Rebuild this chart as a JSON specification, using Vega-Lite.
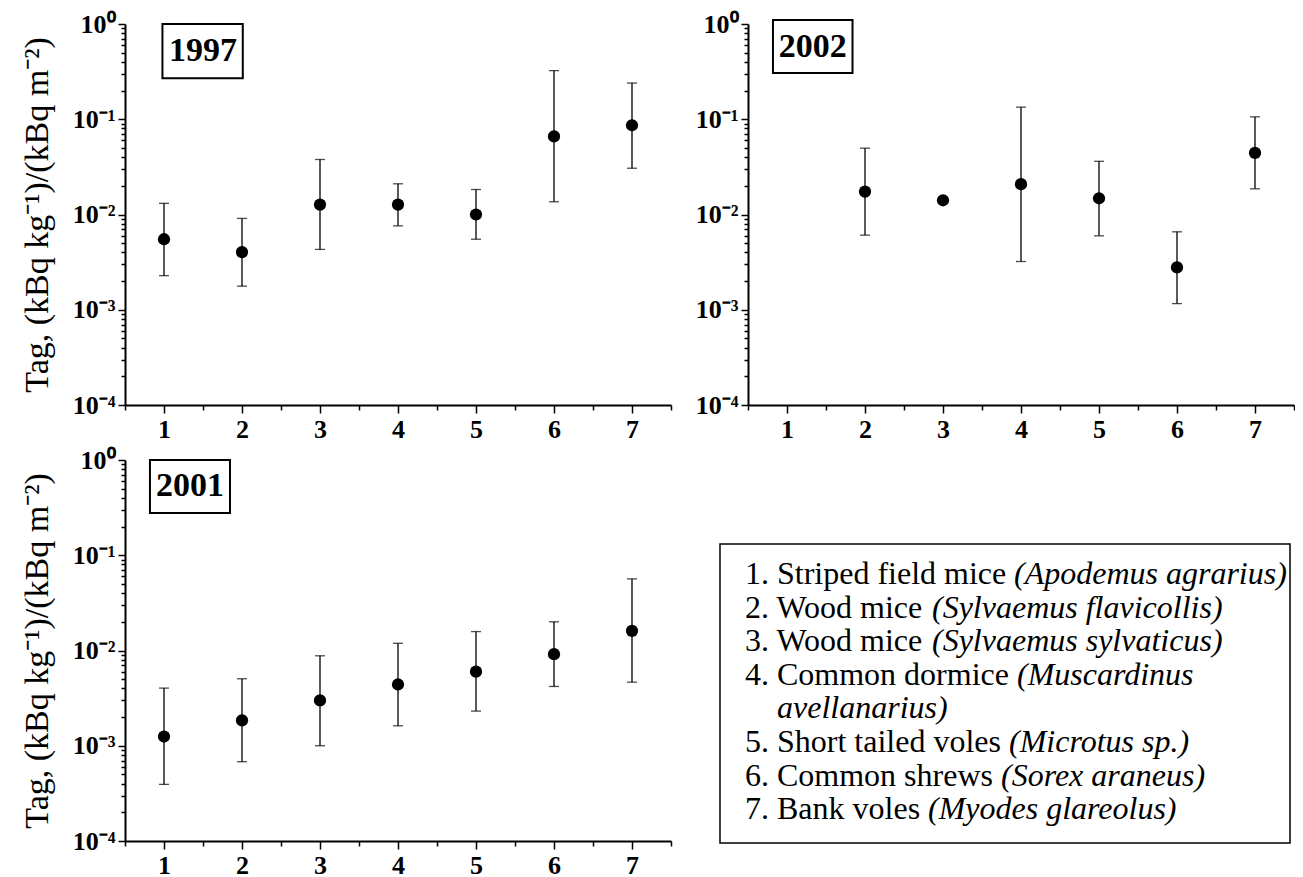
{
  "$schema": "https://vega.github.io/schema/vega-lite/v6.json",
  "autosize": {"type": "pad"},
  "padding": {"left": 20, "top": 11, "right": 0, "bottom": 0},
  "background": "white",
  "bounds": "flush",
  "columns": 2,
  "spacing": {"row": 55, "column": 77},
  "config": {
    "view": {"stroke": null},
    "font": "Liberation Serif",
    "axis": {
      "domainColor": "black", "domainWidth": 2, "tickColor": "black", "tickWidth": 1.5,
      "labelFont": "Liberation Serif", "labelFontWeight": "bold", "labelFontSize": 26, "labelColor": "black",
      "grid": false, "titleFont": "Liberation Serif", "titleFontWeight": "normal", "titleFontSize": 34, "titleColor": "black"
    }
  },
  "datasets": {
    "points": [
      {"year": "1997", "species": 1, "value": 0.0055, "lo": 0.00228, "hi": 0.0131},
      {"year": "1997", "species": 2, "value": 0.00403, "lo": 0.00177, "hi": 0.0091},
      {"year": "1997", "species": 3, "value": 0.0127, "lo": 0.0043, "hi": 0.0378},
      {"year": "1997", "species": 4, "value": 0.0127, "lo": 0.0076, "hi": 0.021},
      {"year": "1997", "species": 5, "value": 0.0100, "lo": 0.0055, "hi": 0.0183},
      {"year": "1997", "species": 6, "value": 0.066, "lo": 0.0136, "hi": 0.324},
      {"year": "1997", "species": 7, "value": 0.0865, "lo": 0.0306, "hi": 0.24},
      {"year": "2002", "species": 2, "value": 0.0174, "lo": 0.00607, "hi": 0.0497},
      {"year": "2002", "species": 3, "value": 0.0141, "lo": null, "hi": null},
      {"year": "2002", "species": 4, "value": 0.0208, "lo": 0.00321, "hi": 0.134},
      {"year": "2002", "species": 5, "value": 0.0148, "lo": 0.00597, "hi": 0.0362},
      {"year": "2002", "species": 6, "value": 0.00278, "lo": 0.00116, "hi": 0.00658},
      {"year": "2002", "species": 7, "value": 0.0443, "lo": 0.0186, "hi": 0.106},
      {"year": "2001", "species": 1, "value": 0.00125, "lo": 0.000393, "hi": 0.00403},
      {"year": "2001", "species": 2, "value": 0.00185, "lo": 0.00068, "hi": 0.00505},
      {"year": "2001", "species": 3, "value": 0.00299, "lo": 0.0010, "hi": 0.0088},
      {"year": "2001", "species": 4, "value": 0.0044, "lo": 0.00162, "hi": 0.0119},
      {"year": "2001", "species": 5, "value": 0.0060, "lo": 0.00231, "hi": 0.0158},
      {"year": "2001", "species": 6, "value": 0.00916, "lo": 0.00419, "hi": 0.0200},
      {"year": "2001", "species": 7, "value": 0.0161, "lo": 0.00465, "hi": 0.0565}
    ],
    "years": [{"year": "1997"}, {"year": "2002"}, {"year": "2001"}, {"year": "legend"}],
    "legend": [
      {"line": 1, "name": "1. Striped field mice", "latin": "(Apodemus agrarius)"},
      {"line": 2, "name": "2. Wood mice", "latin": "(Sylvaemus flavicollis)"},
      {"line": 3, "name": "3. Wood mice", "latin": "(Sylvaemus sylvaticus)"},
      {"line": 4, "name": "4. Common dormice", "latin": "(Muscardinus"},
      {"line": 5, "name": "", "latin": "avellanarius)"},
      {"line": 6, "name": "5. Short tailed voles", "latin": "(Microtus sp.)"},
      {"line": 7, "name": "6. Common shrews", "latin": "(Sorex araneus)"},
      {"line": 8, "name": "7. Bank voles", "latin": "(Myodes glareolus)"}
    ]
  },
  "concat": [
    {
      "width": 546, "height": 381,
      "resolve": {"scale": {"x": "independent"}, "axis": {"x": "independent"}},
      "layer": [
        {
          "data": {"name": "points"},
          "transform": [{"filter": "datum.year == '1997'"}],
          "encoding": {
            "x": {"field": "species", "type": "quantitative", "title": null,
              "scale": {"domain": [0.5, 7.5], "nice": false, "zero": false},
              "axis": {"values": [0.5,1,1.5,2,2.5,3,3.5,4,4.5,5,5.5,6,6.5,7,7.5], "labelExpr": "datum.value % 1 == 0 ? format(datum.value, 'd') : ''", "tickSize": {"condition": {"test": "datum.value % 1 == 0", "value": 8}, "value": 5}, "labelPadding": 3, "labelOverlap": false, "labelFlush": false}}
          },
          "layer": [
            {"transform": [{"filter": "isValid(datum.lo)"}], "mark": {"type": "rule", "color": "black", "strokeWidth": 1.3},
             "encoding": {"y": {"field": "lo", "type": "quantitative", "title": "Tag, (kBq kg⁻¹)/(kBq m⁻²)", "scale": {"type": "log", "domain": [0.0001, 1], "nice": false}}, "y2": {"field": "hi"}}},
            {"transform": [{"filter": "isValid(datum.lo)"}], "mark": {"type": "tick", "orient": "horizontal", "color": "black", "size": 10, "thickness": 1.3},
             "encoding": {"y": {"field": "lo", "type": "quantitative", "title": "Tag, (kBq kg⁻¹)/(kBq m⁻²)"}}},
            {"transform": [{"filter": "isValid(datum.lo)"}], "mark": {"type": "tick", "orient": "horizontal", "color": "black", "size": 10, "thickness": 1.3},
             "encoding": {"y": {"field": "hi", "type": "quantitative", "title": "Tag, (kBq kg⁻¹)/(kBq m⁻²)"}}},
            {"mark": {"type": "circle", "color": "black", "opacity": 1, "size": 150},
             "encoding": {
               "y": {"field": "value", "type": "quantitative", "title": "Tag, (kBq kg⁻¹)/(kBq m⁻²)",
               "axis": {"values": [0.0001,0.0002,0.0003,0.0004,0.0005,0.0006,0.0007,0.0008,0.0009,0.001,0.002,0.003,0.004,0.005,0.006,0.007,0.008,0.009,0.01,0.02,0.03,0.04,0.05,0.06,0.07,0.08,0.09,0.1,0.2,0.3,0.4,0.5,0.6,0.7,0.8,0.9,1],
                 "labelExpr": "datum.value > 0.95 ? '10⁰' : abs(datum.value - 0.1) < 1e-9 ? '10⁻¹' : abs(datum.value - 0.01) < 1e-9 ? '10⁻²' : abs(datum.value - 0.001) < 1e-10 ? '10⁻³' : abs(datum.value - 0.0001) < 1e-11 ? '10⁻⁴' : ''",
                 "tickSize": {"condition": {"test": "abs(log(datum.value)/LN10 - round(log(datum.value)/LN10)) < 0.001", "value": 7}, "value": 4},
                 "labelPadding": 3, "labelOverlap": false, "labelFlush": false, "titlePadding": 18}}}}
          ]
        },
        {
          "data": {"name": "years"},
          "transform": [{"filter": "datum.year == '1997'"}],
          "layer": [
            {"mark": {"type": "rect", "fill": "white", "stroke": "black", "strokeWidth": 2},
             "encoding": {"x": {"datum": 0.98, "type": "quantitative", "scale": {"domain": [0.5, 7.5], "nice": false, "zero": false}, "axis": null}, "x2": {"datum": 2.01}, "y": {"datum": 1.0, "type": "quantitative", "title": "Tag, (kBq kg⁻¹)/(kBq m⁻²)"}, "y2": {"datum": 0.27}}},
            {"mark": {"type": "text", "font": "Liberation Serif", "fontWeight": "bold", "fontSize": 34, "baseline": "middle", "align": "center", "color": "black"},
             "encoding": {"x": {"datum": 1.5, "type": "quantitative", "axis": null}, "y": {"datum": 0.52, "type": "quantitative", "title": "Tag, (kBq kg⁻¹)/(kBq m⁻²)"}, "text": {"field": "year"}}}
          ]
        }
      ]
    },
    {
      "width": 546, "height": 381,
      "resolve": {"scale": {"x": "independent"}, "axis": {"x": "independent"}},
      "layer": [
        {
          "data": {"name": "points"},
          "transform": [{"filter": "datum.year == '2002'"}],
          "encoding": {
            "x": {"field": "species", "type": "quantitative", "title": null,
              "scale": {"domain": [0.5, 7.5], "nice": false, "zero": false},
              "axis": {"values": [0.5,1,1.5,2,2.5,3,3.5,4,4.5,5,5.5,6,6.5,7,7.5], "labelExpr": "datum.value % 1 == 0 ? format(datum.value, 'd') : ''", "tickSize": {"condition": {"test": "datum.value % 1 == 0", "value": 8}, "value": 5}, "labelPadding": 3, "labelOverlap": false, "labelFlush": false}}
          },
          "layer": [
            {"transform": [{"filter": "isValid(datum.lo)"}], "mark": {"type": "rule", "color": "black", "strokeWidth": 1.3},
             "encoding": {"y": {"field": "lo", "type": "quantitative", "title": null, "scale": {"type": "log", "domain": [0.0001, 1], "nice": false}}, "y2": {"field": "hi"}}},
            {"transform": [{"filter": "isValid(datum.lo)"}], "mark": {"type": "tick", "orient": "horizontal", "color": "black", "size": 10, "thickness": 1.3},
             "encoding": {"y": {"field": "lo", "type": "quantitative", "title": null}}},
            {"transform": [{"filter": "isValid(datum.lo)"}], "mark": {"type": "tick", "orient": "horizontal", "color": "black", "size": 10, "thickness": 1.3},
             "encoding": {"y": {"field": "hi", "type": "quantitative", "title": null}}},
            {"mark": {"type": "circle", "color": "black", "opacity": 1, "size": 150},
             "encoding": {
               "y": {"field": "value", "type": "quantitative", "title": null,
               "axis": {"values": [0.0001,0.0002,0.0003,0.0004,0.0005,0.0006,0.0007,0.0008,0.0009,0.001,0.002,0.003,0.004,0.005,0.006,0.007,0.008,0.009,0.01,0.02,0.03,0.04,0.05,0.06,0.07,0.08,0.09,0.1,0.2,0.3,0.4,0.5,0.6,0.7,0.8,0.9,1],
                 "labelExpr": "datum.value > 0.95 ? '10⁰' : abs(datum.value - 0.1) < 1e-9 ? '10⁻¹' : abs(datum.value - 0.01) < 1e-9 ? '10⁻²' : abs(datum.value - 0.001) < 1e-10 ? '10⁻³' : abs(datum.value - 0.0001) < 1e-11 ? '10⁻⁴' : ''",
                 "tickSize": {"condition": {"test": "abs(log(datum.value)/LN10 - round(log(datum.value)/LN10)) < 0.001", "value": 7}, "value": 4},
                 "labelPadding": 3, "labelOverlap": false, "labelFlush": false}}}}
          ]
        },
        {
          "data": {"name": "years"},
          "transform": [{"filter": "datum.year == '2002'"}],
          "layer": [
            {"mark": {"type": "rect", "fill": "white", "stroke": "black", "strokeWidth": 2},
             "encoding": {"x": {"datum": 0.82, "type": "quantitative", "scale": {"domain": [0.5, 7.5], "nice": false, "zero": false}, "axis": null}, "x2": {"datum": 1.84}, "y": {"datum": 1.1, "type": "quantitative", "title": null}, "y2": {"datum": 0.305}}},
            {"mark": {"type": "text", "font": "Liberation Serif", "fontWeight": "bold", "fontSize": 34, "baseline": "middle", "align": "center", "color": "black"},
             "encoding": {"x": {"datum": 1.33, "type": "quantitative", "axis": null}, "y": {"datum": 0.58, "type": "quantitative", "title": null}, "text": {"field": "year"}}}
          ]
        }
      ]
    },
    {
      "width": 546, "height": 381,
      "resolve": {"scale": {"x": "independent"}, "axis": {"x": "independent"}},
      "layer": [
        {
          "data": {"name": "points"},
          "transform": [{"filter": "datum.year == '2001'"}],
          "encoding": {
            "x": {"field": "species", "type": "quantitative", "title": null,
              "scale": {"domain": [0.5, 7.5], "nice": false, "zero": false},
              "axis": {"values": [0.5,1,1.5,2,2.5,3,3.5,4,4.5,5,5.5,6,6.5,7,7.5], "labelExpr": "datum.value % 1 == 0 ? format(datum.value, 'd') : ''", "tickSize": {"condition": {"test": "datum.value % 1 == 0", "value": 8}, "value": 5}, "labelPadding": 3, "labelOverlap": false, "labelFlush": false}}
          },
          "layer": [
            {"transform": [{"filter": "isValid(datum.lo)"}], "mark": {"type": "rule", "color": "black", "strokeWidth": 1.3},
             "encoding": {"y": {"field": "lo", "type": "quantitative", "title": "Tag, (kBq kg⁻¹)/(kBq m⁻²)", "scale": {"type": "log", "domain": [0.0001, 1], "nice": false}}, "y2": {"field": "hi"}}},
            {"transform": [{"filter": "isValid(datum.lo)"}], "mark": {"type": "tick", "orient": "horizontal", "color": "black", "size": 10, "thickness": 1.3},
             "encoding": {"y": {"field": "lo", "type": "quantitative", "title": "Tag, (kBq kg⁻¹)/(kBq m⁻²)"}}},
            {"transform": [{"filter": "isValid(datum.lo)"}], "mark": {"type": "tick", "orient": "horizontal", "color": "black", "size": 10, "thickness": 1.3},
             "encoding": {"y": {"field": "hi", "type": "quantitative", "title": "Tag, (kBq kg⁻¹)/(kBq m⁻²)"}}},
            {"mark": {"type": "circle", "color": "black", "opacity": 1, "size": 150},
             "encoding": {
               "y": {"field": "value", "type": "quantitative", "title": "Tag, (kBq kg⁻¹)/(kBq m⁻²)",
               "axis": {"values": [0.0001,0.0002,0.0003,0.0004,0.0005,0.0006,0.0007,0.0008,0.0009,0.001,0.002,0.003,0.004,0.005,0.006,0.007,0.008,0.009,0.01,0.02,0.03,0.04,0.05,0.06,0.07,0.08,0.09,0.1,0.2,0.3,0.4,0.5,0.6,0.7,0.8,0.9,1],
                 "labelExpr": "datum.value > 0.95 ? '10⁰' : abs(datum.value - 0.1) < 1e-9 ? '10⁻¹' : abs(datum.value - 0.01) < 1e-9 ? '10⁻²' : abs(datum.value - 0.001) < 1e-10 ? '10⁻³' : abs(datum.value - 0.0001) < 1e-11 ? '10⁻⁴' : ''",
                 "tickSize": {"condition": {"test": "abs(log(datum.value)/LN10 - round(log(datum.value)/LN10)) < 0.001", "value": 7}, "value": 4},
                 "labelPadding": 3, "labelOverlap": false, "labelFlush": false, "titlePadding": 18}}}}
          ]
        },
        {
          "data": {"name": "years"},
          "transform": [{"filter": "datum.year == '2001'"}],
          "layer": [
            {"mark": {"type": "rect", "fill": "white", "stroke": "black", "strokeWidth": 2},
             "encoding": {"x": {"datum": 0.82, "type": "quantitative", "scale": {"domain": [0.5, 7.5], "nice": false, "zero": false}, "axis": null}, "x2": {"datum": 1.846}, "y": {"datum": 1.0, "type": "quantitative", "title": "Tag, (kBq kg⁻¹)/(kBq m⁻²)"}, "y2": {"datum": 0.277}}},
            {"mark": {"type": "text", "font": "Liberation Serif", "fontWeight": "bold", "fontSize": 34, "baseline": "middle", "align": "center", "color": "black"},
             "encoding": {"x": {"datum": 1.333, "type": "quantitative", "axis": null}, "y": {"datum": 0.53, "type": "quantitative", "title": "Tag, (kBq kg⁻¹)/(kBq m⁻²)"}, "text": {"field": "year"}}}
          ]
        }
      ]
    },
    {
      "width": 546, "height": 381,
      "layer": [
        {"data": {"name": "years"}, "transform": [{"filter": "datum.year == 'legend'"}], "mark": {"type": "rect", "fill": "white", "stroke": "black", "strokeWidth": 1.5},
         "encoding": {"x": {"datum": -0.0513, "type": "quantitative", "scale": {"domain": [0, 1], "nice": false, "zero": false}, "axis": null}, "x2": {"datum": 0.9927},
           "y": {"datum": 0.107, "type": "quantitative", "scale": {"domain": [-2.393, 8.946], "nice": false, "zero": false, "reverse": true}, "axis": null}, "y2": {"datum": 9.006}}},
        {"data": {"name": "legend"}, "mark": {"type": "text", "align": "left", "baseline": "middle", "font": "Liberation Serif", "fontSize": 32, "color": "black"},
         "encoding": {"x": {"datum": -0.0055, "type": "quantitative"}, "y": {"field": "line", "type": "quantitative"}, "text": {"field": "name"}}},
        {"data": {"name": "legend"}, "transform": [{"filter": "datum.line == 1"}], "mark": {"type": "text", "align": "left", "baseline": "middle", "font": "Liberation Serif", "fontSize": 32, "fontStyle": "italic", "color": "black", "dx": 269},
         "encoding": {"x": {"datum": -0.0055, "type": "quantitative"}, "y": {"field": "line", "type": "quantitative"}, "text": {"field": "latin"}}},
        {"data": {"name": "legend"}, "transform": [{"filter": "datum.line == 2 || datum.line == 3"}], "mark": {"type": "text", "align": "left", "baseline": "middle", "font": "Liberation Serif", "fontSize": 32, "fontStyle": "italic", "color": "black", "dx": 187},
         "encoding": {"x": {"datum": -0.0055, "type": "quantitative"}, "y": {"field": "line", "type": "quantitative"}, "text": {"field": "latin"}}},
        {"data": {"name": "legend"}, "transform": [{"filter": "datum.line == 4"}], "mark": {"type": "text", "align": "left", "baseline": "middle", "font": "Liberation Serif", "fontSize": 32, "fontStyle": "italic", "color": "black", "dx": 272},
         "encoding": {"x": {"datum": -0.0055, "type": "quantitative"}, "y": {"field": "line", "type": "quantitative"}, "text": {"field": "latin"}}},
        {"data": {"name": "legend"}, "transform": [{"filter": "datum.line == 5"}], "mark": {"type": "text", "align": "left", "baseline": "middle", "font": "Liberation Serif", "fontSize": 32, "fontStyle": "italic", "color": "black", "dx": 32},
         "encoding": {"x": {"datum": -0.0055, "type": "quantitative"}, "y": {"field": "line", "type": "quantitative"}, "text": {"field": "latin"}}},
        {"data": {"name": "legend"}, "transform": [{"filter": "datum.line == 6"}], "mark": {"type": "text", "align": "left", "baseline": "middle", "font": "Liberation Serif", "fontSize": 32, "fontStyle": "italic", "color": "black", "dx": 264},
         "encoding": {"x": {"datum": -0.0055, "type": "quantitative"}, "y": {"field": "line", "type": "quantitative"}, "text": {"field": "latin"}}},
        {"data": {"name": "legend"}, "transform": [{"filter": "datum.line == 7"}], "mark": {"type": "text", "align": "left", "baseline": "middle", "font": "Liberation Serif", "fontSize": 32, "fontStyle": "italic", "color": "black", "dx": 256},
         "encoding": {"x": {"datum": -0.0055, "type": "quantitative"}, "y": {"field": "line", "type": "quantitative"}, "text": {"field": "latin"}}},
        {"data": {"name": "legend"}, "transform": [{"filter": "datum.line == 8"}], "mark": {"type": "text", "align": "left", "baseline": "middle", "font": "Liberation Serif", "fontSize": 32, "fontStyle": "italic", "color": "black", "dx": 183},
         "encoding": {"x": {"datum": -0.0055, "type": "quantitative"}, "y": {"field": "line", "type": "quantitative"}, "text": {"field": "latin"}}}
      ]
    }
  ]
}
